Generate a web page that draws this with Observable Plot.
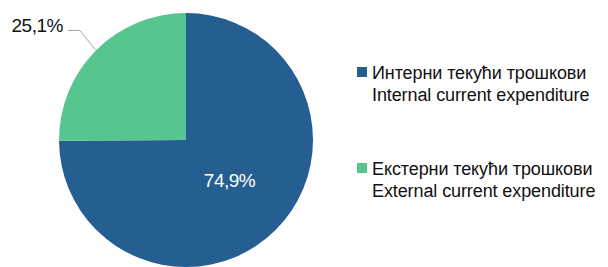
<!DOCTYPE html>
<html><head><meta charset="utf-8">
<script src="https://cdn.jsdelivr.net/npm/d3@7"></script>
<script src="https://cdn.jsdelivr.net/npm/@observablehq/plot@0.6"></script>
<style>
html,body{margin:0;padding:0;background:#fff;}
#wrap{position:relative;width:608px;height:267px;overflow:hidden;}
.lg{position:absolute;font-family:"Liberation Sans",Arial,sans-serif;font-size:18px;line-height:22px;color:#111;letter-spacing:-0.1px;white-space:nowrap;}
.sw{position:absolute;width:10px;height:10px;}
</style></head>
<body><div id="wrap"></div>
<script>
const labelsSr = ["Интерни текући трошкови", "Екстерни текући трошкови"];
const labelsEn = ["Internal current expenditure", "External current expenditure"];
const values = [74.9, 25.1];
const valueLabels = ["74,9%", "25,1%"];
const colors = ["#255e91", "#57c68e"];

const data = values.map((v, i) => ({sr: labelsSr[i], en: labelsEn[i], value: v, label: valueLabels[i], color: colors[i]}));
const arcs = d3.pie().sort(null).value(d => d.value)(data);
const FONT = '"Liberation Sans",Arial,sans-serif';

const pieMark = (index, scales, vals, dims) => {
  const cx = scales.x(0), cy = scales.y(0);
  const r = Math.abs(scales.x(1) - scales.x(0));
  const g = d3.create("svg:g").attr("transform", `translate(${cx},${cy})`);
  const arc = d3.arc().innerRadius(0).outerRadius(r);
  g.selectAll("path.s").data(arcs).join("path").attr("d", arc).attr("fill", d => d.data.color);
  // inside label for the big slice
  const a0 = arcs[0], m0 = (a0.startAngle + a0.endAngle) / 2;
  g.append("text").attr("x", Math.sin(m0) * r * 0.45 + 3).attr("y", -Math.cos(m0) * r * 0.45)
    .attr("text-anchor", "middle").attr("dy", "0.35em").attr("fill", "#fff")
    .attr("font-family", FONT).attr("font-size", 19).attr("letter-spacing", -0.5)
    .text(a0.data.label);
  // outside label with leader for the small slice
  const a1 = arcs[1], m1 = (a1.startAngle + a1.endAngle) / 2;
  const ex = Math.sin(m1) * r, ey = -Math.cos(m1) * r;
  const bx = ex - 16, by = ey - 20;
  g.append("path").attr("d", `M${ex},${ey}L${bx},${by}L${bx - 12},${by}`)
    .attr("fill", "none").attr("stroke", "#a6a6a6").attr("stroke-width", 1);
  g.append("text").attr("x", bx - 17).attr("y", by + 2)
    .attr("text-anchor", "end").attr("fill", "#111")
    .attr("font-family", FONT).attr("font-size", 19).attr("letter-spacing", -0.5)
    .text(a1.data.label);
  return g.node();
};

const chart = Plot.plot({
  width: 608, height: 267, margin: 0,
  x: {domain: [-1, 1], range: [59, 313], axis: null},
  y: {domain: [-1, 1], range: [267, 13], axis: null},
  marks: [pieMark]
});
const wrap = document.getElementById("wrap");
wrap.appendChild(chart);

const tops = [62, 158];
data.forEach((d, i) => {
  const sw = document.createElement("div");
  sw.className = "sw"; sw.style.left = "357px"; sw.style.top = (tops[i] + 5) + "px"; sw.style.background = d.color;
  wrap.appendChild(sw);
  const t = document.createElement("div");
  t.className = "lg"; t.style.left = "372px"; t.style.top = tops[i] + "px";
  t.innerHTML = d.sr + "<br>" + d.en;
  wrap.appendChild(t);
});
</script></body></html>
